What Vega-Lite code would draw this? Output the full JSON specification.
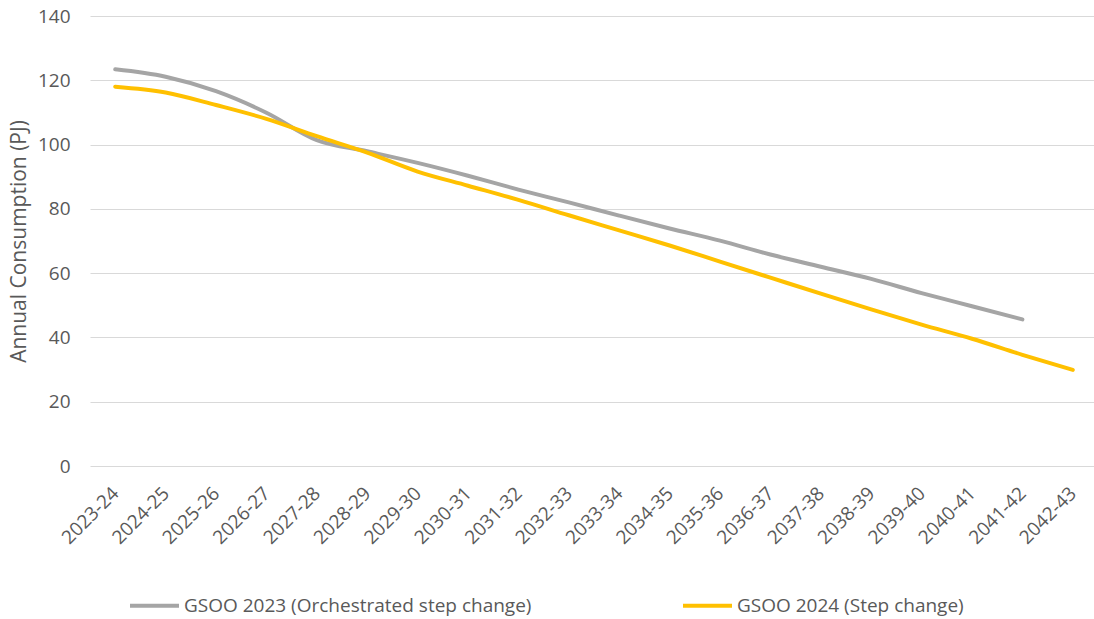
{
  "$schema": "https://vega.github.io/schema/vega-lite/v6.json",
  "width": 1008,
  "height": 450,
  "autosize": "none",
  "padding": {"left": 90, "top": 16, "right": 0, "bottom": 153},
  "background": "white",
  "config": {
    "view": {"stroke": null},
    "font": "Open Sans",
    "axis": {"labelColor": "#595959", "titleColor": "#595959", "labelFont": "Open Sans", "titleFont": "Open Sans"},
    "legend": {"labelFont": "Open Sans"}
  },
  "data": {
    "values": [
      {"year": "2023-24", "series": "GSOO 2023 (Orchestrated step change)", "value": 123.4},
      {"year": "2024-25", "series": "GSOO 2023 (Orchestrated step change)", "value": 121.1},
      {"year": "2025-26", "series": "GSOO 2023 (Orchestrated step change)", "value": 116.6},
      {"year": "2026-27", "series": "GSOO 2023 (Orchestrated step change)", "value": 109.9},
      {"year": "2027-28", "series": "GSOO 2023 (Orchestrated step change)", "value": 101.4},
      {"year": "2028-29", "series": "GSOO 2023 (Orchestrated step change)", "value": 97.9},
      {"year": "2029-30", "series": "GSOO 2023 (Orchestrated step change)", "value": 94.3},
      {"year": "2030-31", "series": "GSOO 2023 (Orchestrated step change)", "value": 90.3},
      {"year": "2031-32", "series": "GSOO 2023 (Orchestrated step change)", "value": 86.0},
      {"year": "2032-33", "series": "GSOO 2023 (Orchestrated step change)", "value": 82.0},
      {"year": "2033-34", "series": "GSOO 2023 (Orchestrated step change)", "value": 77.9},
      {"year": "2034-35", "series": "GSOO 2023 (Orchestrated step change)", "value": 73.9},
      {"year": "2035-36", "series": "GSOO 2023 (Orchestrated step change)", "value": 70.1},
      {"year": "2036-37", "series": "GSOO 2023 (Orchestrated step change)", "value": 65.8},
      {"year": "2037-38", "series": "GSOO 2023 (Orchestrated step change)", "value": 62.0},
      {"year": "2038-39", "series": "GSOO 2023 (Orchestrated step change)", "value": 58.2},
      {"year": "2039-40", "series": "GSOO 2023 (Orchestrated step change)", "value": 53.8},
      {"year": "2040-41", "series": "GSOO 2023 (Orchestrated step change)", "value": 49.7},
      {"year": "2041-42", "series": "GSOO 2023 (Orchestrated step change)", "value": 45.6},
      {"year": "2023-24", "series": "GSOO 2024 (Step change)", "value": 118.0},
      {"year": "2024-25", "series": "GSOO 2024 (Step change)", "value": 116.2},
      {"year": "2025-26", "series": "GSOO 2024 (Step change)", "value": 112.3},
      {"year": "2026-27", "series": "GSOO 2024 (Step change)", "value": 108.0},
      {"year": "2027-28", "series": "GSOO 2024 (Step change)", "value": 102.6},
      {"year": "2028-29", "series": "GSOO 2024 (Step change)", "value": 97.5},
      {"year": "2029-30", "series": "GSOO 2024 (Step change)", "value": 91.6},
      {"year": "2030-31", "series": "GSOO 2024 (Step change)", "value": 87.2},
      {"year": "2031-32", "series": "GSOO 2024 (Step change)", "value": 82.8},
      {"year": "2032-33", "series": "GSOO 2024 (Step change)", "value": 78.0},
      {"year": "2033-34", "series": "GSOO 2024 (Step change)", "value": 73.3},
      {"year": "2034-35", "series": "GSOO 2024 (Step change)", "value": 68.6},
      {"year": "2035-36", "series": "GSOO 2024 (Step change)", "value": 63.6},
      {"year": "2036-37", "series": "GSOO 2024 (Step change)", "value": 58.6},
      {"year": "2037-38", "series": "GSOO 2024 (Step change)", "value": 53.6},
      {"year": "2038-39", "series": "GSOO 2024 (Step change)", "value": 48.7},
      {"year": "2039-40", "series": "GSOO 2024 (Step change)", "value": 44.0},
      {"year": "2040-41", "series": "GSOO 2024 (Step change)", "value": 39.6},
      {"year": "2041-42", "series": "GSOO 2024 (Step change)", "value": 34.6},
      {"year": "2042-43", "series": "GSOO 2024 (Step change)", "value": 29.9}
    ]
  },
  "mark": {"type": "line", "strokeWidth": 4, "interpolate": "monotone", "strokeCap": "round"},
  "encoding": {
    "x": {
      "field": "year",
      "type": "ordinal",
      "scale": {"type": "point", "padding": 0.5},
      "axis": {
        "title": null,
        "labelAngle": -45,
        "labelAlign": "right",
        "labelBaseline": "middle",
        "labelFontSize": 19,
        "labelPadding": 24,
        "ticks": false,
        "domain": false,
        "grid": false
      }
    },
    "y": {
      "field": "value",
      "type": "quantitative",
      "scale": {"domain": [0, 140], "nice": false},
      "axis": {
        "title": "Annual Consumption (PJ)",
        "titleFontSize": 21,
        "titleFontWeight": "normal",
        "titlePadding": 8,
        "labelFontSize": 19,
        "labelPadding": 20,
        "values": [0, 20, 40, 60, 80, 100, 120, 140],
        "ticks": false,
        "domain": false,
        "grid": true,
        "gridColor": "#D9D9D9",
        "gridWidth": 1
      }
    },
    "color": {
      "field": "series",
      "type": "nominal",
      "scale": {
        "domain": ["GSOO 2023 (Orchestrated step change)", "GSOO 2024 (Step change)"],
        "range": ["#A5A5A5", "#FFC000"]
      },
      "legend": {
        "title": null,
        "orient": "none",
        "legendX": 38,
        "legendY": 563,
        "direction": "horizontal",
        "symbolType": "stroke",
        "symbolSize": 2401,
        "symbolStrokeWidth": 4,
        "labelFontSize": 19,
        "labelColor": "#595959",
        "labelOffset": 3,
        "columnPadding": 143,
        "labelLimit": 500
      }
    }
  }
}
